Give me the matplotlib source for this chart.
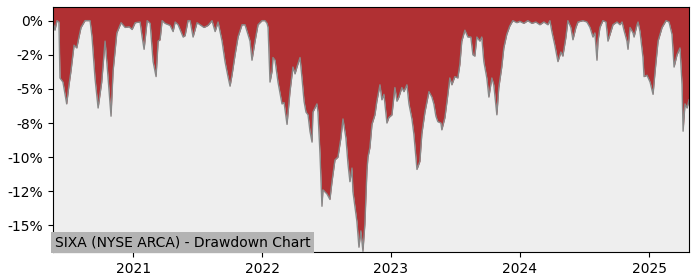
import numpy as np
import pandas as pd
import matplotlib
matplotlib.use("Agg")
import matplotlib.pyplot as plt
import matplotlib.dates as mdates
from matplotlib.ticker import MultipleLocator, FuncFormatter

# ── DATA ───────────────────────────────────────────────────────
# dates as fractional years, drawdown in percent
years_frac = [
    2020.380, 2020.395, 2020.411, 2020.426, 2020.434, 2020.457, 2020.486, 2020.504,
    2020.519, 2020.543, 2020.564, 2020.581, 2020.597, 2020.628, 2020.667, 2020.682,
    2020.705, 2020.729, 2020.757, 2020.783, 2020.798, 2020.829, 2020.845, 2020.874,
    2020.907, 2020.938, 2020.969, 2020.992,
    2021.016, 2021.054, 2021.070, 2021.085, 2021.109, 2021.132, 2021.155, 2021.178,
    2021.194, 2021.209, 2021.225, 2021.248, 2021.287, 2021.310, 2021.326, 2021.349,
    2021.388, 2021.403, 2021.426, 2021.442, 2021.465, 2021.496, 2021.519, 2021.550,
    2021.581, 2021.612, 2021.636, 2021.659, 2021.690, 2021.713, 2021.736, 2021.752,
    2021.767, 2021.791, 2021.814, 2021.845, 2021.868, 2021.891, 2021.907, 2021.922,
    2021.946, 2021.969,
    2022.000, 2022.023, 2022.039, 2022.047, 2022.062, 2022.078, 2022.085, 2022.101,
    2022.124, 2022.155, 2022.171, 2022.194, 2022.217, 2022.240, 2022.256, 2022.271,
    2022.295, 2022.310, 2022.326, 2022.341, 2022.357, 2022.372, 2022.388, 2022.395,
    2022.426, 2022.434, 2022.450, 2022.465, 2022.473, 2022.504, 2022.527, 2022.543,
    2022.566, 2022.589, 2022.612, 2022.628, 2022.651, 2022.667, 2022.682, 2022.698,
    2022.705, 2022.736, 2022.752, 2022.767, 2022.783, 2022.798, 2022.814, 2022.822,
    2022.837, 2022.853, 2022.876, 2022.891, 2022.915, 2022.930, 2022.946, 2022.969,
    2022.984,
    2023.008, 2023.031, 2023.047, 2023.062, 2023.085, 2023.101, 2023.124, 2023.140,
    2023.163, 2023.178, 2023.202, 2023.225, 2023.240, 2023.264, 2023.287, 2023.295,
    2023.318, 2023.333, 2023.349, 2023.364, 2023.388, 2023.395, 2023.419, 2023.442,
    2023.457, 2023.473, 2023.496, 2023.519, 2023.535, 2023.550, 2023.574, 2023.597,
    2023.620, 2023.636, 2023.651, 2023.667, 2023.690, 2023.705, 2023.721, 2023.744,
    2023.760, 2023.783, 2023.798, 2023.822, 2023.837, 2023.860, 2023.876, 2023.899,
    2023.922, 2023.946, 2023.977,
    2024.000, 2024.031, 2024.062, 2024.093, 2024.124, 2024.155, 2024.186, 2024.217,
    2024.233, 2024.248, 2024.271, 2024.295, 2024.318, 2024.333, 2024.357, 2024.372,
    2024.395, 2024.411, 2024.434, 2024.450, 2024.488, 2024.519, 2024.543, 2024.566,
    2024.581, 2024.597, 2024.605, 2024.620, 2024.643, 2024.667, 2024.682, 2024.705,
    2024.721, 2024.752, 2024.775, 2024.791, 2024.806, 2024.829, 2024.837, 2024.853,
    2024.876, 2024.884, 2024.907, 2024.915, 2024.930, 2024.953, 2024.961, 2024.984,
    2025.008, 2025.031, 2025.047, 2025.070, 2025.101, 2025.132, 2025.155, 2025.178,
    2025.194, 2025.217, 2025.240, 2025.256, 2025.264, 2025.279, 2025.295, 2025.310,
]

drawdown_pct = [
    -0.1, -0.7, 0.0, -0.1, -4.2, -4.5, -6.1, -4.7,
    -3.7, -1.8, -2.0, -1.2, -0.5, 0.0, 0.0, -1.2,
    -4.2, -6.4, -4.5, -1.5, -3.2, -7.0, -3.7, -0.9,
    -0.15, -0.5, -0.45, -0.65,
    -0.15, -0.1, -1.2, -2.1, 0.0, -0.2, -3.0, -4.1,
    -1.5, -1.4, 0.0, -0.2, -0.35, -0.8, -0.1, -0.3,
    -1.2, -1.1, 0.0, 0.0, -1.2, -0.15, -0.3, -0.5,
    -0.35, 0.0, -0.8, -0.1, -1.5, -3.0, -4.1, -4.8,
    -4.0, -2.5, -1.2, -0.3, -0.3, -1.0, -1.5, -2.9,
    -1.5, -0.3,
    0.0, 0.0, -0.2, -0.5, -4.5, -3.7, -2.7, -2.9,
    -4.5, -6.1, -6.0, -7.6, -5.2, -3.4, -3.9, -3.4,
    -2.7, -4.2, -5.9, -6.7, -6.9, -8.1, -8.9, -6.7,
    -6.1, -6.7, -9.8, -13.6, -12.4, -12.7, -13.1, -11.8,
    -10.2, -10.0, -8.6, -7.2, -8.6, -10.5, -11.8, -10.8,
    -12.5, -14.7, -16.6, -15.4, -16.9, -14.9, -11.0, -10.0,
    -9.3, -7.6, -6.9, -5.9, -4.7, -5.8, -5.4, -7.5,
    -7.1,
    -6.9, -4.9, -5.9, -5.6, -4.9, -5.2, -4.7, -6.1,
    -7.2, -8.3, -10.9, -10.3, -8.3, -6.7, -5.6, -5.2,
    -5.6, -6.1, -7.0, -7.4, -7.5, -8.0, -7.1, -5.4,
    -4.2, -4.7, -4.1, -4.2, -3.2, -1.5, -0.7, -1.2,
    -1.2, -2.5, -2.6, -1.2, -1.5, -1.2, -3.0, -4.2,
    -5.6, -4.2, -4.7, -6.9, -4.9, -3.4, -2.0, -1.0,
    -0.4, 0.0, -0.15,
    -0.05, -0.2, 0.0, -0.2, -0.1, -0.3, -0.1, -0.3,
    0.0, -0.8, -1.8, -3.0, -2.3, -2.6, -1.2, 0.0,
    -0.5, -1.4, -0.5, -0.1, 0.0, -0.1, -0.5, -1.2,
    -0.9, -2.9, -1.5, -0.5, 0.0, -0.1, -1.5, -0.8,
    -0.3, -0.1, -0.3, -0.1, -0.7, -1.5, -2.1, -0.5,
    -0.9, -1.2, -0.3, -0.1, -0.8, -2.7, -4.1, -4.0,
    -4.5, -5.4, -3.7, -1.5, -0.5, 0.0, -0.1, -1.0,
    -3.4, -2.5, -2.0, -4.7, -8.1, -6.1, -6.4, -5.8,
]

title_text = "SIXA (NYSE ARCA) - Drawdown Chart"


# ── FRACTIONAL YEARS -> DATES ──────────────────────────────────
def frac_to_date(t):
    year = int(np.floor(t))
    start = pd.Timestamp(year, 1, 1)
    span = (pd.Timestamp(year + 1, 1, 1) - start).days
    return start + pd.Timedelta(days=(t - year) * span)


dates = pd.to_datetime([frac_to_date(t) for t in years_frac])
dd = np.array(drawdown_pct)

# ── CHART ──────────────────────────────────────────────────────
fig = plt.figure(figsize=(7, 2.8), dpi=100)
ax = fig.add_axes([0.0757, 0.1, 0.9086, 0.875])
ax.set_facecolor("#eeeeee")

y_top = 1.0
y_bot = -16.95

ax.fill_between(dates, dd, y_top + 1, color="#b03033", linewidth=0)
ax.plot(dates, dd, color="#888888", linewidth=1.0)

ax.set_xlim(dates[0], dates[-1])
ax.set_ylim(y_bot, y_top)

ax.xaxis.set_major_locator(mdates.YearLocator())
ax.xaxis.set_major_formatter(mdates.DateFormatter("%Y"))
ax.yaxis.set_major_locator(MultipleLocator(2.5))
ax.yaxis.set_major_formatter(FuncFormatter(lambda v, _: f"{v:.0f}%"))
ax.tick_params(labelsize=10)

ax.text(0.003, 0.012, title_text, transform=ax.transAxes,
        fontsize=10, ha="left", va="bottom",
        bbox=dict(facecolor="#b3b3b3", edgecolor="none", pad=2.5))

fig.savefig("out.png", dpi=100)
